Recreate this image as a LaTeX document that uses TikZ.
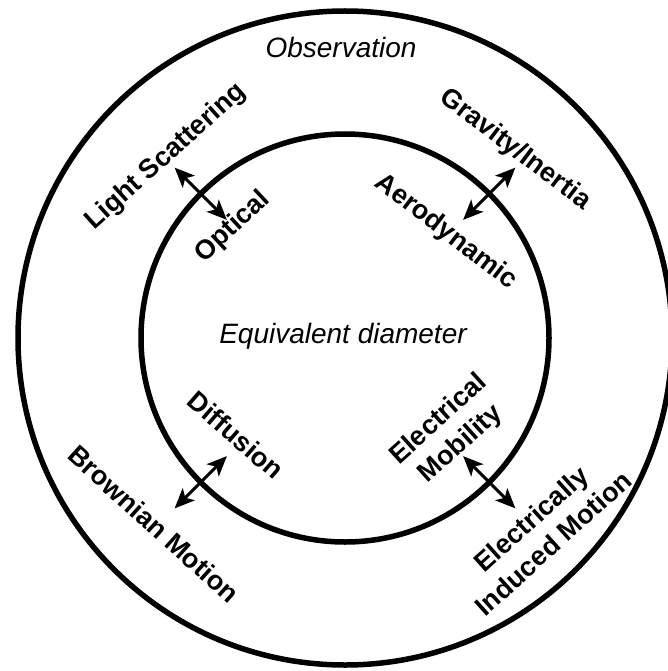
\documentclass[tikz,border=0pt]{standalone}
\usepackage{fontspec}
\setmainfont{Liberation Sans}
\usetikzlibrary{calc,arrows.meta}
\begin{document}
\begin{tikzpicture}[x=1pt,y=1pt,
  ring/.style={draw=black,line width=5.5pt},
  lbl/.style={font=\fontsize{27}{33}\selectfont\bfseries,align=center,inner sep=0pt},
  itl/.style={font=\fontsize{28}{33}\selectfont\itshape,inner sep=0pt},
  dbl/.style={line width=3pt,{Stealth[length=20pt,width=17pt,inset=5pt]}-{Stealth[length=20pt,width=17pt,inset=5pt]}}]
\useasboundingbox (0,0) rectangle (667,-671);
\coordinate (C) at (345,-338);
\draw[ring] (C) circle (327);
\draw[ring] (C) circle (204);
% arrow end points
\coordinate (oi) at ($(C)+(135:167)$);
\coordinate (oo) at ($(C)+(135:241)$);
\coordinate (gi) at ($(C)+(45:167)$);
\coordinate (go) at ($(C)+(45:241)$);
\coordinate (di) at ($(C)+(225:167)$);
\coordinate (do) at ($(C)+(225:241)$);
\coordinate (ei) at ($(C)+(315:167)$);
\coordinate (eo) at ($(C)+(315:241)$);
\draw[dbl] (oi) -- (oo);
\draw[dbl] (gi) -- (go);
\draw[dbl] (di) -- (do);
\draw[dbl] (ei) -- (eo);
% labels
\node[itl] (obs) at (341,-47) {Observation};
\node[itl] (eqd) at (343,-336) {Equivalent diameter};
\node[lbl,rotate=42] (ls) at (166,-157) {Light Scattering};
\node[lbl,rotate=43] (opt) at (233,-227) {Optical};
\node[lbl,rotate=-37] (gi-l) at (515,-150) {Gravity/Inertia};
\node[lbl,rotate=-37.5] (aer) at (446,-232) {Aerodynamic};
\node[lbl,rotate=-41] (dif) at (236,-435) {Diffusion};
\node[lbl,rotate=-42] (bro) at (154,-524) {Brownian Motion};
\node[lbl,rotate=42] (elm) at (450,-432) {Electrical\\Mobility};
\node[lbl,rotate=42] (eim) at (542,-531) {Electrically\\Induced Motion};
\end{tikzpicture}
\end{document}
